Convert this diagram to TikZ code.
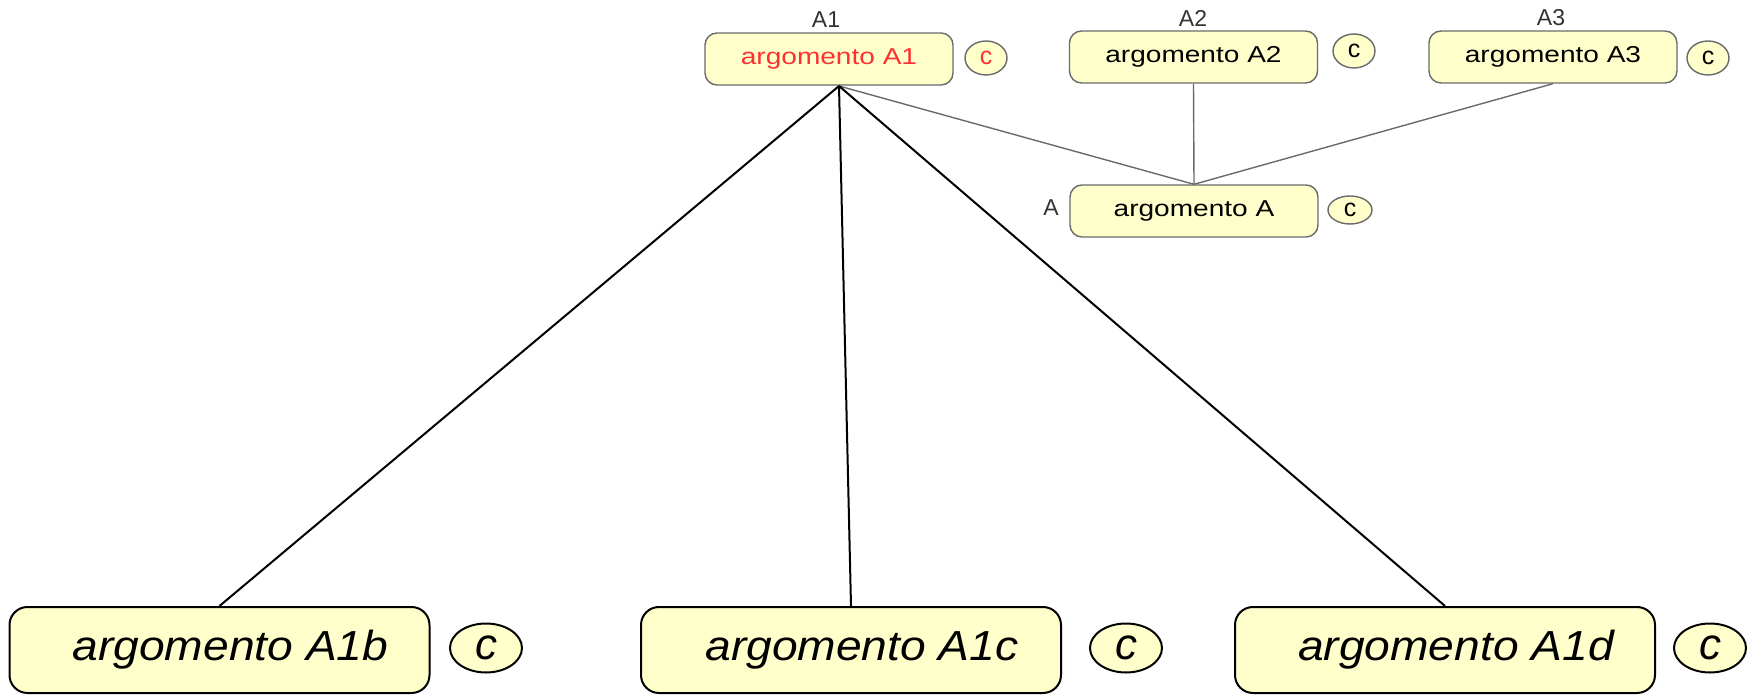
\documentclass[tikz,border=0pt]{standalone}
\usepackage{fontspec}
\setmainfont{Liberation Sans}
\usetikzlibrary{shapes.geometric}
\definecolor{boxfill}{HTML}{FFFFCC}
\definecolor{topline}{HTML}{6A6A6A}
\definecolor{redtxt}{HTML}{FF3030}
\definecolor{lbltxt}{HTML}{333333}
\newcommand{\toptext}[1]{\scalebox{1.22}[1]{\fontsize{11.5}{13}\selectfont #1}}
\newcommand{\bottext}[1]{\hspace*{11pt}\scalebox{1.1}[1]{\fontsize{21}{24}\selectfont\itshape #1}}
\begin{document}
\begin{tikzpicture}[x=0.5pt,y=-0.5pt,
  topbox/.style={draw=topline, fill=boxfill, rounded corners=6pt, minimum width=124pt, minimum height=26pt, inner sep=0pt, line width=0.7pt},
  botbox/.style={draw=black, fill=boxfill, rounded corners=9pt, minimum width=210pt, minimum height=43pt, inner sep=0pt, line width=1pt},
  topc/.style={draw=topline, fill=boxfill, ellipse, inner sep=0pt, minimum width=21pt, minimum height=17pt, line width=0.7pt, font=\fontsize{12.5}{14}\selectfont},
  botc/.style={draw=black, fill=boxfill, ellipse, inner sep=0pt, minimum width=36pt, minimum height=24.5pt, line width=1pt, font=\fontsize{22}{25}\selectfont\itshape},
  lbl/.style={font=\fontsize{11.5}{13}\selectfont, text=lbltxt, inner sep=0pt},
  thinline/.style={draw=topline, line width=0.7pt},
  thickline/.style={draw=black, line width=1pt}
]
\useasboundingbox (0,0) rectangle (1753,695);

% top boxes
\node[topbox] (a1) at (829,59) {\textcolor{redtxt}{\toptext{argomento A1}}};
\node[topbox] (a2) at (1193.5,57) {\toptext{argomento A2}};
\node[topbox] (a3) at (1553,57) {\toptext{argomento A3}};
\node[topbox] (a) at (1194,211) {\toptext{argomento A}};

% labels
\node[lbl] (la1) at (826,20) {A1};
\node[lbl] (la2) at (1193,18) {A2};
\node[lbl] (la3) at (1551,18) {A3};
\node[lbl] (la) at (1051,208) {A};

% top c ellipses
\node[topc, text=redtxt] (c1) at (986,58) {c};
\node[topc] (c2) at (1354,51) {c};
\node[topc] (c3) at (1708,58) {c};
\node[topc, minimum width=22pt, minimum height=14pt] (ca) at (1350,210) {c};

% bottom boxes
\node[botbox] (b) at (219.5,650) {\bottext{argomento A1b}};
\node[botbox] (c) at (851,650) {\bottext{argomento A1c}};
\node[botbox] (d) at (1445,650) {\bottext{argomento A1d}};

% bottom c ellipses
\node[botc] (cb) at (486,648) {c};
\node[botc] (cc) at (1126,648) {c};
\node[botc] (cd) at (1710,648) {c};

% connectors
\coordinate (j) at (839,86);
\draw[thinline] (j) -- (a.north);
\draw[thinline] (a2.south) -- (a.north);
\draw[thinline] (a3.south) -- (a.north);
\draw[thickline] (j) -- (b.north);
\draw[thickline] (j) -- (c.north);
\draw[thickline] (j) -- (d.north);
\end{tikzpicture}
\end{document}
